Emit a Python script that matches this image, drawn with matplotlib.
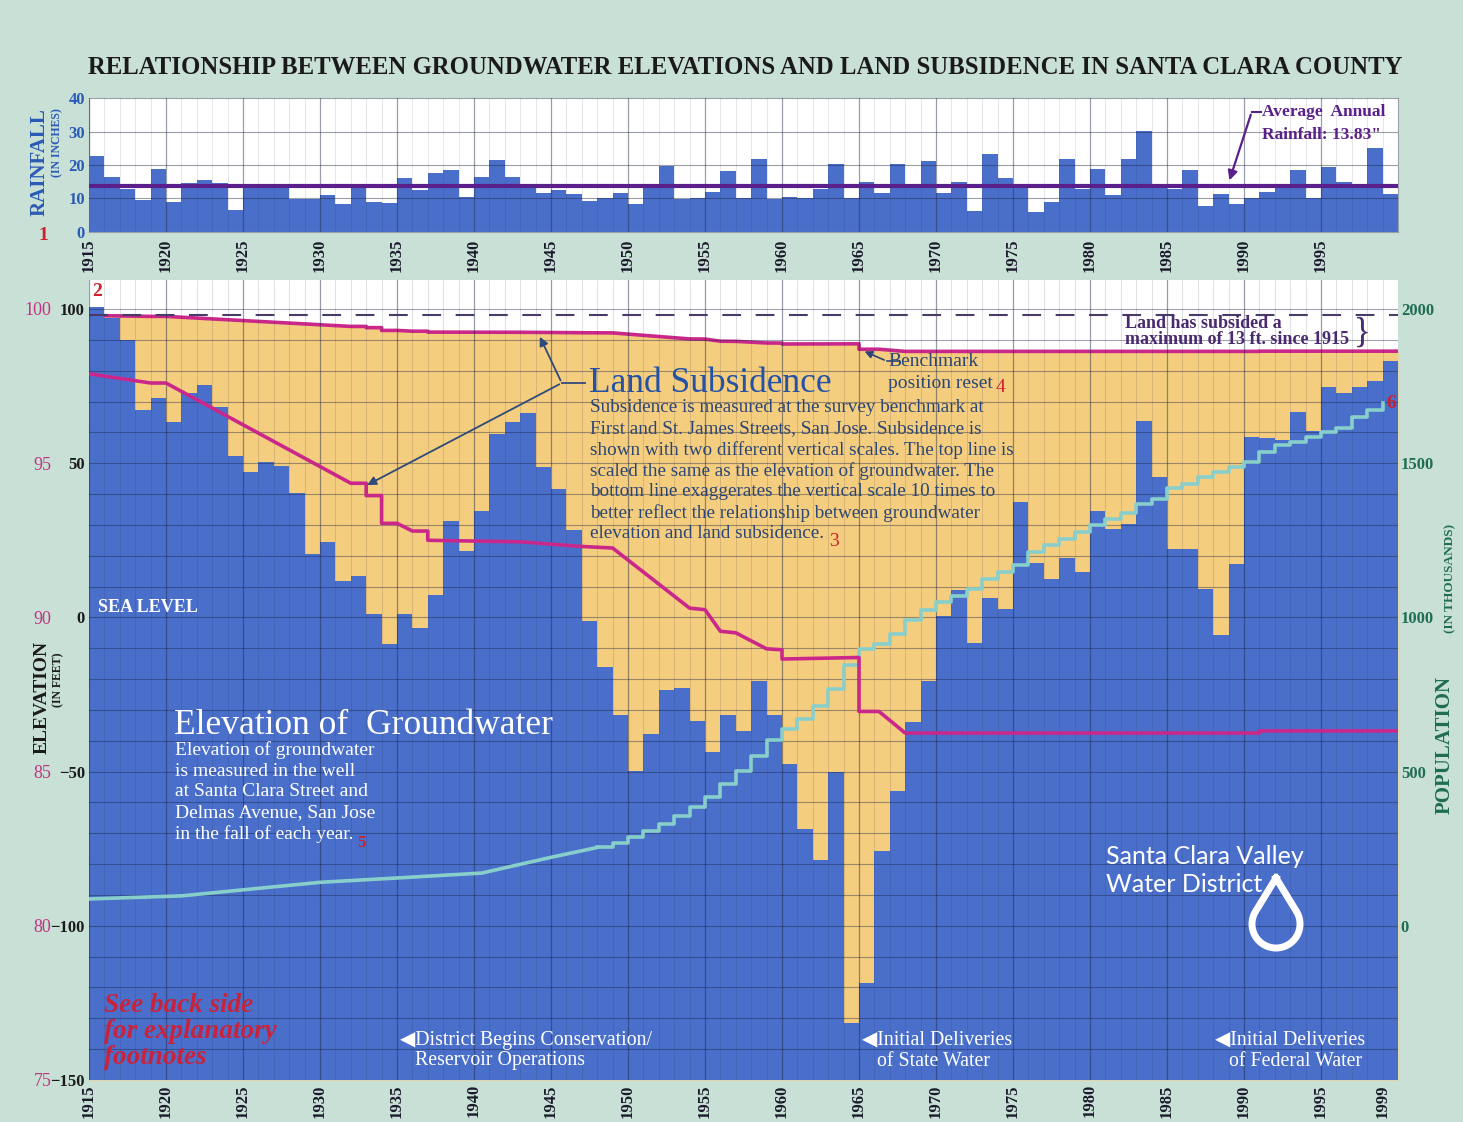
import matplotlib.pyplot as plt
import numpy as np

years = np.arange(1915, 2000)

rainfall = [22.7, 16.3, 12.7, 9.5, 18.9, 8.8, 14.7, 15.4, 14.5, 6.5,
            14.3, 14.3, 14.0, 9.9, 9.9, 10.9, 8.2, 14.0, 9.0, 8.7,
            16.2, 12.4, 17.7, 18.6, 10.4, 16.4, 21.4, 16.4, 13.1, 11.5,
            12.4, 11.3, 9.1, 10.0, 11.5, 8.4, 14.0, 19.7, 9.7, 10.2,
            11.9, 18.1, 10.2, 21.9, 9.8, 10.3, 10.0, 12.7, 20.2, 10.2,
            15.0, 11.5, 20.2, 13.1, 21.2, 11.5, 14.8, 6.3, 23.4, 16.2,
            14.0, 5.8, 9.0, 21.9, 12.8, 18.7, 11.0, 21.9, 30.3, 14.0,
            12.7, 18.6, 7.8, 11.2, 8.4, 10.2, 11.8, 14.0, 18.4, 10.0,
            19.4, 15.0, 13.2, 25.0, 11.2]
avg_rain = 13.83

groundwater = [100.7, 97.0, 89.9, 67.2, 71.3, 63.3, 72.6, 75.3, 68.2, 52.3,
               47.2, 50.3, 49.2, 40.4, 20.4, 24.3, 11.7, 13.3, 1.2, -8.5,
               1.2, -3.3, 7.4, 31.2, 21.5, 34.5, 59.6, 63.5, 66.3, 48.8,
               41.6, 28.2, -1.2, -16.0, -31.8, -49.7, -37.8, -23.7, -22.8, -33.7,
               -43.7, -31.8, -36.7, -20.7, -31.8, -47.5, -68.6, -78.7, -50.2, -131.4,
               -118.4, -75.6, -56.2, -34.0, -20.5, 0.6, 8.8, -8.4, 6.3, 2.6,
               37.4, 17.7, 12.6, 19.4, 14.7, 34.4, 28.5, 30.4, 63.6, 45.4,
               22.3, 22.3, 9.3, -5.6, 17.4, 58.5, 58.2, 57.5, 66.7, 60.5,
               74.8, 72.6, 74.8, 76.6, 83.1]

# benchmark elevation (ft), breakpoints of the subsidence line
sub_years = [1915, 1919, 1920, 1932, 1933, 1933, 1934, 1934, 1935, 1936,
             1937, 1937, 1943, 1947, 1949, 1954, 1955, 1956, 1957, 1959,
             1960, 1960, 1965, 1965, 1966.3, 1968, 1991, 1991, 2000]
sub_level = [97.9, 97.6, 97.6, 94.35, 94.35, 93.95, 93.95, 93.05, 93.05, 92.8,
             92.8, 92.5, 92.45, 92.3, 92.25, 90.3, 90.25, 89.55, 89.5, 88.98,
             88.95, 88.65, 88.7, 86.95, 86.95, 86.25, 86.25, 86.32, 86.32]

# population (thousands)
pop_early_years = [1915, 1921, 1930, 1935, 1940.5, 1945, 1948]
pop_early = [87, 97, 141, 155, 171, 222, 254]
pop_years = np.arange(1948, 2000)
population = [254, 270, 287, 308, 330, 357, 384, 417, 460, 503,
              552, 601, 639, 671, 714, 768, 845, 898, 915, 947,
              990, 1023, 1050, 1070, 1093, 1126, 1147, 1169, 1212, 1234,
              1255, 1277, 1299, 1320, 1339, 1369, 1385, 1418, 1434, 1456,
              1472, 1488, 1504, 1537, 1558, 1569, 1585, 1601, 1613, 1650,
              1672, 1694]

rain_ticks = [0, 10, 20, 30, 40]
elev_ticks = [-150, -100, -50, 0, 50, 100]
sub_ticks = [75, 80, 85, 90, 95, 100]
pop_ticks = [0, 500, 1000, 1500, 2000]
main_year_ticks = list(range(1915, 2000, 5)) + [1999]
rain_year_ticks = list(range(1915, 2000, 5))

subsidence_note = ['Subsidence is measured at the survey benchmark at',
                   'First and St. James Streets, San Jose. Subsidence is',
                   'shown with two different vertical scales. The top line is',
                   'scaled the same as the elevation of groundwater. The',
                   'bottom line exaggerates the vertical scale 10 times to',
                   'better reflect the relationship between groundwater',
                   'elevation and land subsidence.']
groundwater_note = ['Elevation of groundwater', 'is measured in the well',
                    'at Santa Clara Street and', 'Delmas Avenue, San Jose',
                    'in the fall of each year.']

# ---- colours ----
BG = '#c9e0d7'
BLUE = '#4a6fcb'
SAND = '#f4cd7f'
MAGENTA = '#c9288a'
PURPLE = '#5a1f8a'
CYAN = '#88cfcc'
RED = '#d0202c'
GREEN = '#1f6d52'
NOTE = '#2b4674'
SERIF = 'Liberation Serif'
TRI_FONT = [SERIF, 'DejaVu Sans']

W, H = 1463, 1122


def fx(px):
    return px / W


def fy(py):
    return 1 - py / H


def put_lines(x, y0, step, lines, **kw):
    # one text per line so the spacing matches the poster
    for i, line in enumerate(lines):
        fig.text(fx(x), fy(y0 + i * step), line, ha='left', va='center', **kw)


fig = plt.figure(figsize=(W / 100, H / 100), dpi=100, facecolor=BG)

fig.text(fx(745), fy(67), 'RELATIONSHIP BETWEEN GROUNDWATER ELEVATIONS AND LAND SUBSIDENCE IN SANTA CLARA COUNTY',
         ha='center', va='center', fontsize=17.8, fontweight='bold', family=SERIF, color='#1a1a1a')

# ---------------- rainfall panel ----------------
axr = fig.add_axes([fx(89), fy(231.7), fx(1398) - fx(89), (231.7 - 98.3) / H])
axr.set_facecolor('white')
axr.bar(years, rainfall, width=1, align='edge', color=BLUE, lw=0)
axr.axhline(avg_rain, color=PURPLE, lw=3, zorder=4)
for yr in range(1915, 2000):
    major = (yr - 1915) % 5 == 0
    axr.axvline(yr, color='#202840', lw=0.9 if major else 0.4, alpha=0.45 if major else 0.2, zorder=3)
for v in rain_ticks[1:-1]:
    axr.axhline(v, color='#202840', lw=0.8, alpha=0.45, zorder=3)
axr.set_xlim(1915, 2000)
axr.set_ylim(0, 40)
axr.set_yticks(rain_ticks)
axr.set_xticks(rain_year_ticks)
axr.tick_params(axis='y', length=0, pad=3)
axr.tick_params(axis='x', length=0, pad=5)
for lab in axr.get_yticklabels():
    lab.set(color='#2a5ab5', fontweight='bold', family=SERIF, fontsize=12)
for lab in axr.get_xticklabels():
    lab.set(rotation=90, fontweight='bold', family=SERIF, fontsize=12, color='#1a1a2a')
for sp in axr.spines.values():
    sp.set_color('#9aa0a8')
    sp.set_linewidth(0.8)

axr.plot([1990.5, 1991.1], [35.9, 35.9], color=PURPLE, lw=1.5, zorder=5)
axr.annotate('', xy=(1989.0, 14.6), xytext=(1990.5, 35.9),
             arrowprops=dict(arrowstyle='-|>', color=PURPLE, lw=1.6, mutation_scale=14), zorder=5)
axr.text(1991.2, 35.9, 'Average  Annual', ha='left', va='center', fontsize=12.5, fontweight='bold',
         family=SERIF, color=PURPLE, zorder=6)
axr.text(1991.2, 29.0, 'Rainfall: 13.83"', ha='left', va='center', fontsize=12.5, fontweight='bold',
         family=SERIF, color=PURPLE, zorder=6)

fig.text(fx(40), fy(162), 'RAINFALL', rotation=90, ha='center', va='center', fontsize=15,
         fontweight='bold', family=SERIF, color='#2a5ab5')
fig.text(fx(57), fy(143), '(IN INCHES)', rotation=90, ha='center', va='center', fontsize=8.5,
         fontweight='bold', family=SERIF, color='#2a5ab5')
fig.text(fx(43), fy(236), '1', ha='center', va='center', fontsize=14, fontweight='bold',
         family=SERIF, color=RED)

# ---------------- main panel ----------------
ax = fig.add_axes([fx(89), fy(1080), fx(1398) - fx(89), (1080 - 280) / H])
ax.set_facecolor('white')
ax.set_xlim(1915, 2000)
ax.set_ylim(-150, 109.4)

sub = np.array(sub_level)
ax.fill_between(sub_years, -150, sub, color=SAND, lw=0, zorder=1)
ax.bar(years, np.array(groundwater) + 150, bottom=-150, width=1, align='edge', color=BLUE, lw=0, zorder=1.5)

for yr in range(1915, 2000):
    major = (yr - 1915) % 5 == 0
    ax.axvline(yr, color='#1a2040', lw=0.9 if major else 0.45, alpha=0.45 if major else 0.22, zorder=2)
for v in range(-140, 110, 10):
    ax.axhline(v, color='#1a2040', lw=0.8, alpha=0.4, zorder=2)

ax.axhline(sub_level[0], color='#4a3a6a', lw=1.5, dashes=(9, 7), zorder=3)
ax.plot(sub_years, sub, color=MAGENTA, lw=2.6, zorder=1.2)
ax.plot(sub_years, (sub - 90) * 10, color=MAGENTA, lw=2.6, zorder=4)

ax.plot(pop_early_years, np.array(pop_early) / 10 - 100, color=CYAN, lw=2.6, zorder=3.5)
ax.plot(pop_years, np.array(population) / 10 - 100, color=CYAN, lw=2.6, drawstyle='steps-post', zorder=3.5)

ax.set_yticks(elev_ticks)
ax.set_xticks(main_year_ticks)
ax.tick_params(length=0, pad=3)
for lab in ax.get_yticklabels():
    lab.set(color='#1a1a1a', fontweight='bold', family=SERIF, fontsize=12)
for lab in ax.get_xticklabels():
    lab.set(rotation=90, fontweight='bold', family=SERIF, fontsize=12, color='#1a1a2a')
for sp in ax.spines.values():
    sp.set_visible(False)

sec_l = ax.secondary_yaxis('left', functions=(lambda e: 90 + e / 10, lambda s: (s - 90) * 10))
sec_l.set_yticks(sub_ticks)
sec_l.tick_params(length=0, pad=27)
sec_l.spines['left'].set_visible(False)
for lab in sec_l.get_yticklabels():
    lab.set(color='#c03580', family=SERIF, fontsize=13)

sec_r = ax.secondary_yaxis('right', functions=(lambda e: (e + 100) * 10, lambda p: p / 10 - 100))
sec_r.set_yticks(pop_ticks)
sec_r.tick_params(length=0, pad=2)
sec_r.spines['right'].set_visible(False)
for lab in sec_r.get_yticklabels():
    lab.set(color=GREEN, fontweight='bold', family=SERIF, fontsize=12)

fig.text(fx(42), fy(697), 'ELEVATION', rotation=90, ha='center', va='center', fontsize=14,
         fontweight='bold', family=SERIF, color='#1a1a1a')
fig.text(fx(58), fy(680), '(IN FEET)', rotation=90, ha='center', va='center', fontsize=8.5,
         fontweight='bold', family=SERIF, color='#1a1a1a')
fig.text(fx(1445), fy(745), 'POPULATION', rotation=90, ha='center', va='center', fontsize=15,
         fontweight='bold', family=SERIF, color=GREEN)
fig.text(fx(1450), fy(578), '(IN THOUSANDS)', rotation=90, ha='center', va='center', fontsize=9.5,
         fontweight='bold', family=SERIF, color=GREEN)

# land subsidence annotation
fig.text(fx(589), fy(383), 'Land Subsidence', ha='left', va='center', fontsize=25.5, family=SERIF,
         color='#2352a6', zorder=6)
ax.plot([1945.7, 1947.2], [76.0, 76.0], color='#2e4a7a', lw=1.3, zorder=6)
ax.annotate('', xy=(1944.2, np.interp(1944.2, sub_years, sub) - 0.6), xytext=(1945.7, 76.0),
            arrowprops=dict(arrowstyle='-|>', color='#2e4a7a', lw=1.3, mutation_scale=13), zorder=6)
ax.annotate('', xy=(1932.9, (94.35 - 90) * 10 - 1), xytext=(1945.7, 76.0),
            arrowprops=dict(arrowstyle='-|>', color='#2e4a7a', lw=1.3, mutation_scale=13), zorder=6)
put_lines(590, 408, 21, subsidence_note, fontsize=13.8, family=SERIF, color=NOTE)
fig.text(fx(829), fy(541), '3', ha='left', va='center', fontsize=14, family=SERIF, color=RED)

ax.annotate('', xy=(1965.2, 86.6), xytext=(1966.8, 83.1),
            arrowprops=dict(arrowstyle='-|>', color=NOTE, lw=1.2, mutation_scale=11), zorder=6)
ax.plot([1966.8, 1967.6], [83.1, 83.1], color=NOTE, lw=1.2, zorder=6)
put_lines(888, 361, 22, ['Benchmark', 'position reset'], fontsize=14, family=SERIF, color=NOTE)
fig.text(fx(996), fy(388), '4', ha='left', va='center', fontsize=14, family=SERIF, color=RED)

put_lines(1125, 324, 16, ['Land has subsided a', 'maximum of 13 ft. since 1915'], fontsize=13,
          fontweight='bold', family=SERIF, color='#4a2a6e')
fig.text(fx(1362), fy(333), '}', ha='center', va='center', fontsize=25, family=SERIF, color='#4a2a6e')

fig.text(fx(1386), fy(403), '6', ha='left', va='center', fontsize=14, fontweight='bold', family=SERIF,
         color=RED)
fig.text(fx(92), fy(292), '2', ha='left', va='center', fontsize=14, fontweight='bold', family=SERIF,
         color=RED)

fig.text(fx(98), fy(607), 'SEA LEVEL', ha='left', va='center', fontsize=13, fontweight='bold',
         family=SERIF, color='white')

fig.text(fx(174), fy(726), 'Elevation of  Groundwater', ha='left', va='center', fontsize=25.5,
         family=SERIF, color='white')
put_lines(175, 750, 21, groundwater_note, fontsize=14.0, family=SERIF, color='white')
fig.text(fx(357), fy(843), '5', ha='left', va='center', fontsize=12, fontweight='bold', family=SERIF,
         color=RED)

put_lines(104, 1005, 26, ['See back side', 'for explanatory', 'footnotes'], fontsize=19.5,
          fontweight='bold', style='italic', family=SERIF, color='#c8233c')

put_lines(400, 1040, 21, ['\u25c0District Begins Conservation/'], fontsize=14.3, family=TRI_FONT, color='white')
put_lines(415, 1061, 21, ['Reservoir Operations'], fontsize=14.3, family=SERIF, color='white')
put_lines(862, 1040, 21, ['\u25c0Initial Deliveries'], fontsize=14.3, family=TRI_FONT, color='white')
put_lines(877, 1061, 21, ['of State Water'], fontsize=14.3, family=SERIF, color='white')
put_lines(1215, 1040, 21, ['\u25c0Initial Deliveries'], fontsize=14.3, family=TRI_FONT, color='white')
put_lines(1229, 1061, 21, ['of Federal Water'], fontsize=14.3, family=SERIF, color='white')

# district logo
put_lines(1106, 857, 27, ['Santa Clara Valley', 'Water District'], fontsize=18, family='Lato', color='white')
cx, cy, r, tip = 1276.0, 924.0, 24.0, 878.0
d = cy - tip
ang = np.arccos(r / d)
t = np.linspace(np.pi / 2 + ang, np.pi / 2 - ang + 2 * np.pi, 120)
drop_x = np.concatenate([[cx], cx + r * np.cos(t), [cx]])
drop_y = np.concatenate([[tip], cy - r * np.sin(t), [tip]])
fig.add_artist(plt.Line2D(drop_x / W, 1 - drop_y / H, color='white', lw=5, transform=fig.transFigure,
                          solid_joinstyle='miter'))

fig.savefig('out.png', dpi=100, facecolor=BG)
